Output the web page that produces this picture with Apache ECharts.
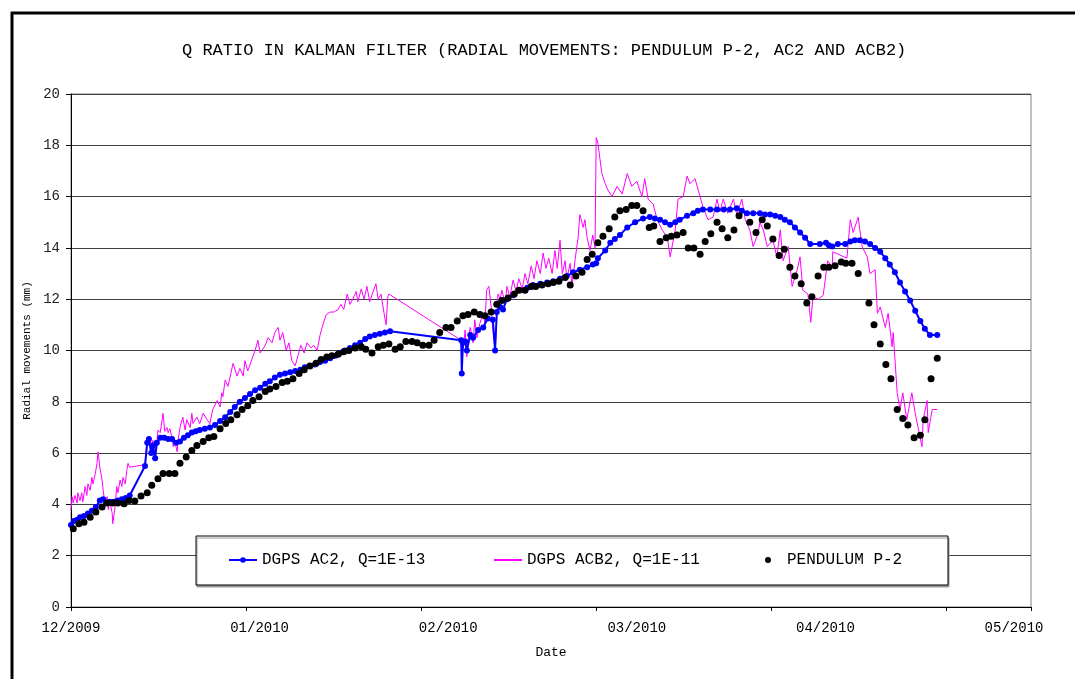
<!DOCTYPE html>
<html>
<head>
<meta charset="utf-8">
<script src="https://cdn.jsdelivr.net/npm/echarts@6/dist/echarts.min.js"></script>
<style>
html,body{margin:0;padding:0;background:#fff;}
#chart{width:1075px;height:679px;}
</style>
</head>
<body>
<div id="chart"></div>
<script>
// x values are days since 1 Dec 2009 (axis ticks every 31 days)
const xTickLabels = ['12/2009','01/2010','02/2010','03/2010','04/2010','05/2010'];
const seriesNames = ['DGPS AC2, Q=1E-13','DGPS ACB2, Q=1E-11','PENDULUM P-2'];

const ac2 = [
[0.0,3.2],[0.5,3.35],[1.1,3.4],[1.6,3.5],[2.3,3.55],[3.0,3.65],[3.7,3.75],[4.4,3.9],[5.1,4.15],[5.7,4.2],
[6.2,4.05],[6.9,4.1],[7.6,4.1],[8.3,4.15],[9.0,4.2],[9.7,4.25],[10.4,4.35],
[13.1,5.5],[13.5,6.4],[13.8,6.55],[14.2,6.0],[14.5,6.3],[14.9,5.8],[15.2,6.4],[15.8,6.6],[16.5,6.6],
[17.2,6.55],[17.9,6.55],[18.6,6.4],[19.3,6.45],[20.0,6.6],[20.7,6.7],[21.4,6.8],[22.1,6.85],[22.8,6.9],
[23.7,6.95],[24.6,7.0],[25.5,7.1],[26.4,7.25],[27.3,7.4],[28.2,7.6],[29.0,7.8],[29.9,8.0],[30.8,8.15],
[31.7,8.3],[32.6,8.45],[33.5,8.55],[34.4,8.7],[35.2,8.8],[36.1,8.95],[37.0,9.05],[37.9,9.1],[38.8,9.15],
[39.7,9.2],[40.6,9.25],[41.4,9.35],[42.3,9.4],[43.2,9.45],[44.1,9.55],[45.0,9.6],[45.9,9.7],[46.8,9.8],
[47.6,9.9],[48.5,10.0],[49.4,10.1],[50.3,10.2],[51.2,10.3],[52.1,10.45],[52.9,10.55],[53.8,10.6],
[54.7,10.65],[55.6,10.7],[56.5,10.75],
[69.1,10.4],[69.2,9.1],[69.4,10.3],[69.8,10.35],[70.1,10.0],[70.7,10.6],[71.2,10.5],[72.1,10.8],
[73.0,10.9],[73.8,11.25],[74.7,11.2],[75.1,10.0],[75.4,11.5],[76.0,11.7],[76.5,11.6],[77.2,12.0],
[78.3,12.15],[79.5,12.35],[80.8,12.45],[81.8,12.55],[83.1,12.6],[84.3,12.65],[85.4,12.7],[86.6,12.8],
[87.8,12.9],[88.9,13.05],[90.1,13.15],[91.4,13.25],[92.4,13.35],[93.0,13.4],[93.3,13.6],[94.6,13.9],
[95.5,14.2],[96.3,14.35],[97.2,14.5],[98.5,14.8],[99.9,15.0],[101.3,15.15],[102.5,15.2],[103.4,15.15],
[104.3,15.1],[105.2,15.0],[106.1,14.9],[107.0,15.0],[107.8,15.1],[109.1,15.25],[110.2,15.35],[111.0,15.45],
[111.9,15.5],[113.2,15.5],[114.4,15.5],[115.6,15.5],[116.7,15.5],[117.9,15.55],[118.8,15.45],[119.7,15.35],
[120.8,15.35],[122.0,15.35],[122.9,15.3],[123.8,15.3],[124.7,15.25],[125.6,15.2],[126.4,15.1],[127.3,15.0],
[128.2,14.8],[129.1,14.6],[130.0,14.4],[130.9,14.15],
[132.6,14.15],[133.7,14.2],[134.2,14.1],[134.8,14.05],[135.8,14.15],[137.1,14.15],[138.0,14.25],
[138.8,14.3],[139.7,14.3],[140.6,14.25],[141.5,14.15],[142.4,14.0],[143.3,13.85],[144.2,13.6],
[145.0,13.35],[145.9,13.05],[146.8,12.65],[147.7,12.3],[148.6,11.95],[149.5,11.55],[150.4,11.15],
[151.2,10.85],[152.1,10.6],[153.4,10.6]
];

const acb2 = [
[0.0,3.8],[0.2,4.3],[0.4,4.05],[0.7,4.35],[1.1,4.05],[1.2,4.45],[1.6,4.15],[1.9,4.45],[2.1,4.1],[2.5,4.7],
[2.8,4.35],[3.0,4.8],[3.4,4.55],[3.7,5.05],[3.9,4.8],[4.3,5.2],[4.6,5.6],[4.8,6.05],[5.1,5.45],[5.5,4.95],
[5.7,4.55],[6.0,4.05],[6.4,4.3],[6.6,3.8],[6.9,4.1],[7.3,3.65],[7.4,3.25],[7.8,3.9],[8.1,4.7],[8.3,4.45],
[8.7,4.95],[9.0,4.7],[9.2,5.05],[9.6,4.8],[9.9,5.35],[10.1,5.6],[10.4,5.45],
[13.1,5.55],[13.5,6.6],[13.6,6.4],[14.0,6.6],[14.3,6.25],[14.5,6.5],[14.9,6.1],[15.2,6.4],[15.4,6.9],
[15.8,6.8],[16.3,7.55],[16.6,6.85],[17.0,7.0],[17.2,6.8],[17.5,6.95],[17.9,6.6],[18.1,6.25],[18.4,6.45],
[18.8,6.05],[18.9,6.4],[19.3,7.0],[19.8,7.4],[20.2,6.9],[20.5,7.3],[21.1,7.0],[21.4,7.55],[21.6,7.15],
[22.3,7.4],[22.8,7.15],[23.4,7.55],[24.1,7.3],[24.6,7.15],[25.1,7.7],[25.9,8.05],[26.4,7.8],[26.7,8.35],
[26.9,8.2],[27.3,8.85],[27.8,8.6],[28.2,9.0],[28.7,9.5],[29.4,9.0],[29.9,9.3],[30.5,9.0],[30.8,9.6],
[31.3,9.2],[32.1,9.7],[32.6,10.0],[33.1,10.4],[33.5,9.9],[33.8,10.0],[34.4,10.2],[34.9,10.5],[35.6,10.3],
[36.1,10.7],[36.7,10.9],[37.0,10.4],[37.5,10.7],[38.1,10.0],[38.6,10.3],[39.1,9.6],[39.7,9.4],[40.2,9.8],
[40.7,10.2],[41.3,9.9],[41.8,10.3],[42.5,10.1],[43.0,10.2],[43.6,10.0],[44.1,10.6],[44.6,11.0],[45.2,11.4],
[45.9,11.5],[46.6,11.5],[47.3,11.6],[47.8,11.8],[48.3,11.6],[48.9,12.2],[49.4,11.8],[49.9,12.0],[50.5,12.3],
[50.8,11.9],[51.4,12.4],[51.9,12.0],[52.4,12.5],[52.9,11.9],[53.5,12.3],[54.0,12.6],[54.4,12.0],[54.9,12.2],
[55.4,11.5],[55.8,11.0],[56.1,12.1],[56.3,12.2],
[69.1,10.4],[69.2,9.6],[69.4,9.95],[69.8,10.8],[70.1,9.75],[70.3,10.4],[70.7,10.9],[71.2,10.3],[71.5,11.2],
[71.9,10.5],[72.4,11.05],[73.0,11.45],[73.3,11.05],[73.6,12.35],[74.0,12.5],[74.4,11.7],[74.7,10.8],
[75.1,10.0],[75.4,11.3],[75.6,12.2],[76.0,12.0],[76.3,12.35],[76.9,11.85],[77.2,12.5],[77.7,12.1],
[78.3,12.75],[78.8,12.3],[79.3,12.8],[79.9,12.4],[80.4,13.0],[80.9,12.6],[81.5,13.3],[82.0,12.8],
[82.5,13.5],[83.1,13.0],[83.6,13.8],[84.1,13.2],[84.6,13.6],[85.2,13.0],[85.7,13.9],[86.1,13.2],
[86.6,14.3],[87.0,13.0],[87.5,13.5],[87.8,12.8],[88.4,13.4],[88.7,12.5],[89.3,13.6],[89.8,14.4],
[90.1,15.3],[90.7,14.8],[91.0,15.1],[91.4,14.4],[91.9,13.9],[92.4,14.5],[92.8,14.0],[93.0,18.3],
[93.3,18.1],[94.0,16.9],[94.6,16.5],[95.1,16.25],[95.8,16.0],[96.7,16.4],[97.6,16.1],[98.5,16.9],
[99.3,16.4],[100.2,16.6],[101.1,16.0],[101.6,16.7],[102.2,15.9],[103.1,15.7],[103.8,15.1],[104.7,14.7],
[105.6,14.4],[106.1,13.65],[107.0,14.7],[107.5,15.9],[108.4,16.0],[109.1,16.8],[109.6,16.5],[110.5,16.7],
[111.4,16.0],[111.9,15.6],[112.8,15.1],[113.7,15.2],[114.4,15.9],[114.9,15.4],[115.5,15.9],[116.3,15.35],
[117.3,15.9],[117.9,15.3],[118.8,15.9],[119.4,15.1],[120.2,14.7],[120.8,14.05],[121.7,14.6],[122.0,15.0],
[122.6,14.7],[123.3,14.05],[124.3,14.3],[125.0,13.65],[125.6,14.7],[126.1,13.5],[127.0,14.05],[127.7,12.5],
[128.6,13.15],[129.1,13.65],[129.6,12.35],[130.5,12.2],[131.0,11.1],[131.4,12.1],[132.3,12.0],[133.2,12.15],
[134.0,13.5],[134.8,13.25],[134.9,13.85],[137.4,13.6],[138.0,15.1],[138.5,14.6],[139.4,15.2],[140.1,14.05],
[141.0,13.65],[141.5,13.0],[142.4,13.15],[142.8,11.45],[143.3,11.7],[144.2,10.9],[144.7,11.45],[145.4,10.15],
[145.6,10.7],[146.3,8.35],[146.8,7.7],[147.3,8.35],[148.0,7.3],[148.9,8.35],[149.5,7.55],[150.0,7.0],
[150.7,6.25],[150.9,7.3],[151.6,8.05],[151.8,6.8],[152.5,7.7],[153.4,7.7]
];

const pendulum = [
[0.4,3.05],[1.4,3.25],[2.3,3.3],[3.4,3.5],[4.4,3.7],[5.5,3.9],[6.4,4.05],[7.4,4.05],[8.3,4.05],[9.4,4.03],
[10.3,4.15],[11.3,4.13],[12.4,4.33],[13.5,4.45],[14.3,4.75],[15.4,5.0],[16.3,5.2],[17.4,5.2],[18.4,5.2],
[19.3,5.6],[20.4,5.85],[21.4,6.1],[22.3,6.3],[23.4,6.45],[24.4,6.6],[25.3,6.65],[26.4,6.95],[27.4,7.15],
[28.3,7.3],[29.4,7.5],[30.3,7.7],[31.3,7.85],[32.2,8.05],[33.3,8.2],[34.4,8.4],[35.2,8.5],[36.3,8.6],
[37.4,8.75],[38.3,8.8],[39.3,8.9],[40.4,9.1],[41.3,9.25],[42.3,9.4],[43.4,9.5],[44.3,9.65],[45.3,9.75],
[46.2,9.8],[47.3,9.85],[48.3,9.95],[49.2,10.0],[50.3,10.1],[51.4,10.15],[52.2,10.05],[53.3,9.9],[54.4,10.15],
[55.3,10.2],[56.3,10.25],[57.4,10.05],[58.3,10.15],[59.3,10.35],[60.4,10.35],[61.3,10.3],[62.3,10.2],
[63.4,10.2],[64.3,10.4],[65.3,10.7],[66.4,10.9],[67.3,10.9],[68.4,11.15],[69.4,11.35],[70.3,11.4],
[71.4,11.5],[72.4,11.4],[73.3,11.35],[74.4,11.5],[75.4,11.8],[76.3,11.95],[77.4,12.05],[78.5,12.2],
[79.3,12.35],[80.4,12.35],[81.5,12.5],[82.3,12.5],[83.4,12.55],[84.5,12.6],[85.4,12.65],[86.4,12.7],
[87.5,12.85],[88.4,12.55],[89.4,12.9],[90.5,13.05],[91.4,13.55],[92.3,13.75],[93.3,14.2],[94.2,14.45],
[95.3,14.75],[96.3,15.2],[97.2,15.45],[98.3,15.5],[99.3,15.65],[100.2,15.65],[101.3,15.45],[102.4,14.8],
[103.2,14.85],[104.3,14.25],[105.4,14.4],[106.3,14.45],[107.3,14.5],[108.4,14.6],[109.3,14.0],[110.3,14.0],
[111.4,13.75],[112.3,14.25],[113.3,14.55],[114.4,15.0],[115.3,14.75],[116.3,14.4],[117.4,14.7],[118.3,15.25],
[120.2,15.0],[121.3,14.6],[122.4,15.1],[123.3,14.85],[124.3,14.35],[125.4,13.7],[126.3,13.95],[127.3,13.25],
[128.2,12.9],[129.3,12.6],[130.3,11.85],[131.2,12.1],[132.3,12.9],[133.3,13.25],[134.2,13.25],[135.3,13.3],
[136.4,13.45],[137.2,13.4],[138.3,13.4],[139.4,13.0],[141.3,11.85],[142.2,11.0],[143.3,10.25],[144.3,9.45],
[145.2,8.9],[146.3,7.7],[147.3,7.35],[148.2,7.1],[149.3,6.6],[150.4,6.7],[151.2,7.3],[152.3,8.9],[153.4,9.7]
];

const FONT = 'Liberation Mono';
const chart = echarts.init(document.getElementById('chart'), null, {renderer:'canvas'});

function legendFor(name, left, extra) {
  return Object.assign({
    data: [name], left: left, top: 552, padding: 0, z: 100,
    itemWidth: 28, itemHeight: 7, itemGap: 0,
    textStyle: {fontFamily: FONT, fontSize: 16, color: '#000'}
  }, extra || {});
}

chart.setOption({
  animation: false,
  backgroundColor: '#fff',
  title: {
    text: 'Q RATIO IN KALMAN FILTER (RADIAL MOVEMENTS: PENDULUM P-2, AC2 AND ACB2)',
    left: 177, top: 37,
    textStyle: {fontFamily: FONT, fontSize: 17, fontWeight: 'normal', color: '#000'}
  },
  legend: [
    legendFor(seriesNames[0], 228),
    legendFor(seriesNames[1], 494, {icon: 'rect', itemHeight: 2}),
    legendFor(seriesNames[2], 765, {itemHeight: 6})
  ],
  grid: {left: 71, right: 44, top: 94, bottom: 72, show: true, borderColor: '#808080', borderWidth: 1, backgroundColor: '#fff'},
  xAxis: [
    {
      type: 'value', min: 0, max: 170, interval: 31,
      axisLine: {show: true, onZero: false, lineStyle: {color: '#000', width: 1}},
      axisTick: {show: true, length: 4, lineStyle: {color: '#000'}},
      axisLabel: {show: false},
      splitLine: {show: false},
      name: 'Date', nameLocation: 'middle', nameGap: 39,
      nameTextStyle: {fontFamily: FONT, fontSize: 13, color: '#000'}
    },
    {
      type: 'value', min: 0, max: 5.09, interval: 1, position: 'bottom',
      axisLine: {show: false}, axisTick: {show: false}, splitLine: {show: false},
      axisLabel: {
        margin: 14, fontFamily: FONT, fontSize: 14, color: '#000',
        formatter: function (v) { return Number.isInteger(v) ? (xTickLabels[v] || '') : ''; }
      }
    }
  ],
  yAxis: {
    type: 'value', min: 0, max: 20, interval: 2,
    axisLine: {show: true, lineStyle: {color: '#000', width: 1}},
    axisTick: {show: true, length: 5, lineStyle: {color: '#000'}},
    axisLabel: {margin: 11, fontFamily: FONT, fontSize: 14, color: '#222'},
    splitLine: {show: true, lineStyle: {color: '#404040', width: 1}},
    name: 'Radial movements (mm)', nameLocation: 'middle', nameGap: 35,
    nameTextStyle: {fontFamily: FONT, fontSize: 11, color: '#000'}
  },
  graphic: [
    {type: 'rect', z: 50, shape: {x: 196, y: 536, width: 752, height: 49},
     style: {fill: '#fff', stroke: '#000', lineWidth: 1, shadowColor: '#999', shadowOffsetX: 1, shadowOffsetY: 2}},
    {type: 'line', z: 60, shape: {x1: 12, y1: 12, x2: 12, y2: 679}, style: {stroke: '#000', lineWidth: 3}},
    {type: 'line', z: 60, shape: {x1: 11, y1: 13, x2: 1075, y2: 13}, style: {stroke: '#000', lineWidth: 3}}
  ],
  series: [
    {
      name: seriesNames[0], type: 'line', data: ac2, xAxisIndex: 0,
      symbol: 'circle', symbolSize: 6, showSymbol: true,
      itemStyle: {color: '#0000FF', opacity: 1}, lineStyle: {color: '#0000FF', width: 2}, z: 3
    },
    {
      name: seriesNames[1], type: 'line', data: acb2, xAxisIndex: 0,
      symbol: 'none', showSymbol: false,
      itemStyle: {color: '#FF00FF'}, lineStyle: {color: '#FF00FF', width: 1}, z: 2
    },
    {
      name: seriesNames[2], type: 'scatter', data: pendulum, xAxisIndex: 0,
      symbol: 'circle', symbolSize: 7,
      itemStyle: {color: '#000', opacity: 1}, z: 4
    }
  ]
});
</script>
</body>
</html>
